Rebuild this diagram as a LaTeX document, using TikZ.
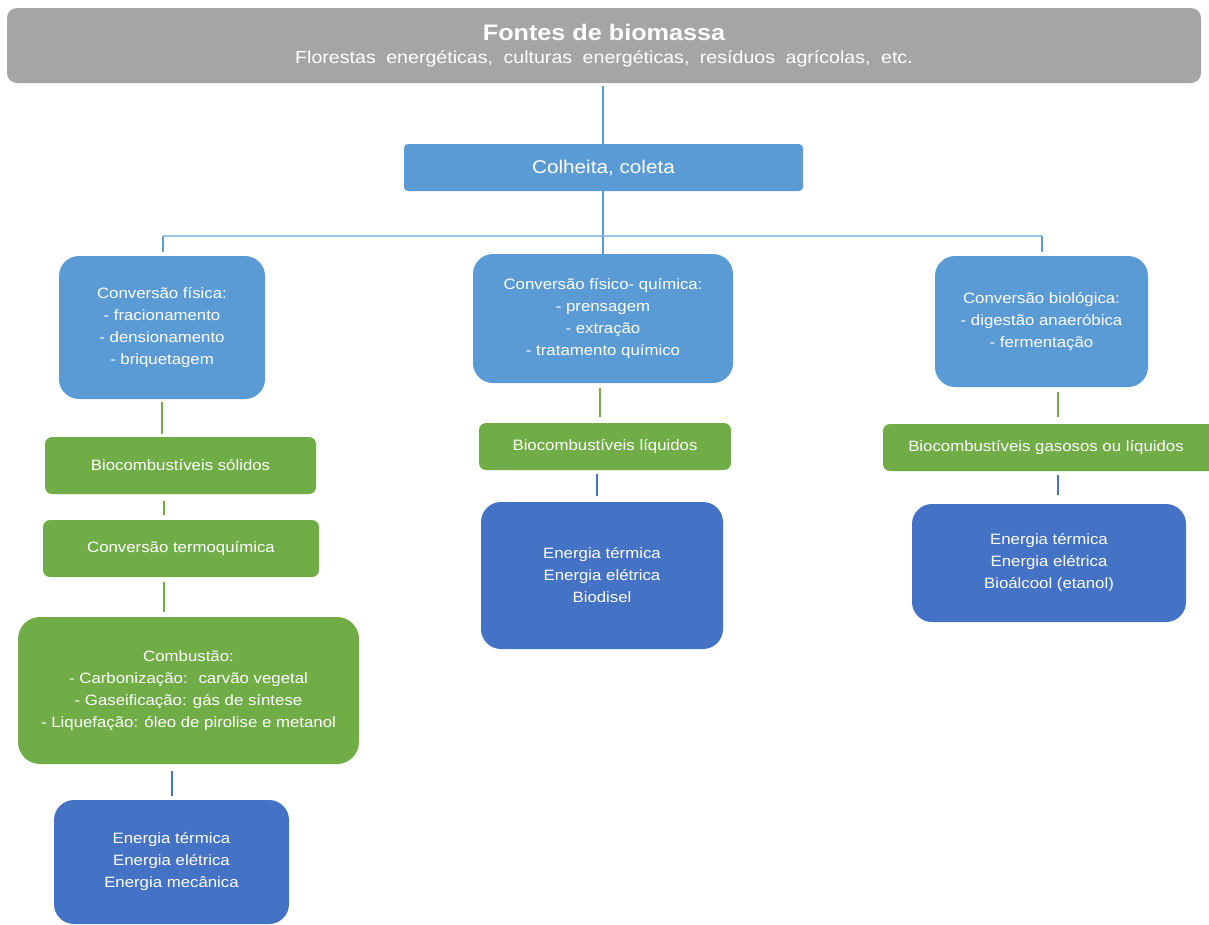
\documentclass[tikz,border=0pt]{standalone}
\usepackage{fontspec}
\setmainfont[FakeStretch=1.12]{Liberation Sans}
\usetikzlibrary{calc}
\definecolor{cgrey}{HTML}{A5A5A5}
\definecolor{clblue}{HTML}{5B9BD5}
\definecolor{cgreen}{HTML}{70AD47}
\definecolor{cdblue}{HTML}{4472C4}
\definecolor{chline}{HTML}{9DC3E6}
\newcommand\bx[7]{\node[#6, minimum width={#4-#2}, minimum height={#5-#3}] (#1) at ({(#2+#4)/2},{(#3+#5)/2}) {#7};}
\begin{document}
\begin{tikzpicture}[x=1pt,y=-1pt,
  basebox/.style={inner sep=0pt, text=white, align=center, font=\fontsize{15}{22}\selectfont},
  greybox/.style={basebox, fill=cgrey, rounded corners=10pt},
  lbbig/.style={basebox, fill=clblue, rounded corners=20pt},
  lbsmall/.style={basebox, fill=clblue, rounded corners=4pt, font=\fontsize{18.5}{22}\selectfont},
  gsmall/.style={basebox, fill=cgreen, rounded corners=7pt},
  gbig/.style={basebox, fill=cgreen, rounded corners=22pt},
  dbbig/.style={basebox, fill=cdblue, rounded corners=20pt},
  blink/.style={draw=clblue, line width=1.5pt},
  hlink/.style={draw=chline, line width=2.5pt},
  glink/.style={draw=cgreen, line width=1.5pt},
  dlink/.style={draw=cdblue, line width=1.5pt}]
\useasboundingbox (0,0) rectangle (1209,924);
\fill[white] (0,0) rectangle (1209,924);

\bx{top}{7}{8}{1201}{83}{greybox}{{\bfseries\fontsize{22.5}{24}\selectfont Fontes de biomassa}\\[1pt]{\fontsize{17.5}{22}\selectfont\spaceskip=0.6em Florestas energéticas, culturas energéticas, resíduos agrícolas, etc.}}
\bx{col}{404}{144}{803}{191}{lbsmall}{Colheita, coleta}

\bx{fis}{59}{256}{265}{399}{lbbig}{Conversão física:\\- fracionamento\\- densionamento\\- briquetagem}
\bx{fq}{473}{254}{733}{383}{lbbig}{Conversão físico- química:\\- prensagem\\- extração\\- tratamento químico}
\bx{bio}{935}{256}{1148}{387}{lbbig}{Conversão biológica:\\- digestão anaeróbica\\- fermentação}

\bx{bs}{45}{437}{316}{494}{gsmall}{Biocombustíveis sólidos}
\bx{tq}{43}{520}{319}{577}{gsmall}{Conversão termoquímica}
\bx{comb}{18}{617}{359}{764}{gbig}{Combustão:\\- Carbonização:~ carvão vegetal\\- Gaseificação: gás de síntese\\- Liquefação: óleo de pirolise e metanol}
\bx{en1}{54}{800}{289}{924}{dbbig}{Energia térmica\\Energia elétrica\\Energia mecânica}

\bx{bl}{479}{423}{731}{470}{gsmall}{Biocombustíveis líquidos}
\bx{en2}{481}{502}{723}{649}{dbbig}{Energia térmica\\Energia elétrica\\Biodisel}

\bx{bg}{883}{424}{1216}{471}{gsmall}{Biocombustíveis gasosos ou líquidos\hspace{7pt}}
\bx{en3}{912}{504}{1186}{622}{dbbig}{Energia térmica\\Energia elétrica\\Bioálcool (etanol)}

% tree connectors
\coordinate (hj) at (603,236);
\coordinate (hl) at (163,236);
\coordinate (hr) at (1042,236);
\draw[blink, shorten <=3pt] (top.south -| hj) -- (col.north -| hj);
\draw[blink] (col.south -| hj) -- (hj);
\draw[hlink] (hl) -- (hr);
\draw[blink, shorten >=4pt] (hl) -- (fis.north -| hl);
\draw[blink] (hj) -- (fq.north -| hj);
\draw[blink, shorten >=4pt] (hr) -- (bio.north -| hr);

% left column
\coordinate (xa) at (162,0);
\coordinate (xb) at (164,0);
\coordinate (xc) at (172,0);
\draw[glink, shorten <=3pt, shorten >=3pt] (fis.south -| xa) -- (bs.north -| xa);
\draw[glink, shorten <=7pt, shorten >=5pt] (bs.south -| xb) -- (tq.north -| xb);
\draw[glink, shorten <=5pt, shorten >=5pt] (tq.south -| xb) -- (comb.north -| xb);
\draw[dlink, shorten <=7pt, shorten >=4pt] (comb.south -| xc) -- (en1.north -| xc);

% middle column
\coordinate (xd) at (600,0);
\coordinate (xe) at (597,0);
\draw[glink, shorten <=5pt, shorten >=6pt] (fq.south -| xd) -- (bl.north -| xd);
\draw[dlink, shorten <=4pt, shorten >=6pt] (bl.south -| xe) -- (en2.north -| xe);

% right column
\coordinate (xf) at (1058,0);
\draw[glink, shorten <=5pt, shorten >=7pt] (bio.south -| xf) -- (bg.north -| xf);
\draw[dlink, shorten <=4pt, shorten >=9pt] (bg.south -| xf) -- (en3.north -| xf);
\end{tikzpicture}
\end{document}
